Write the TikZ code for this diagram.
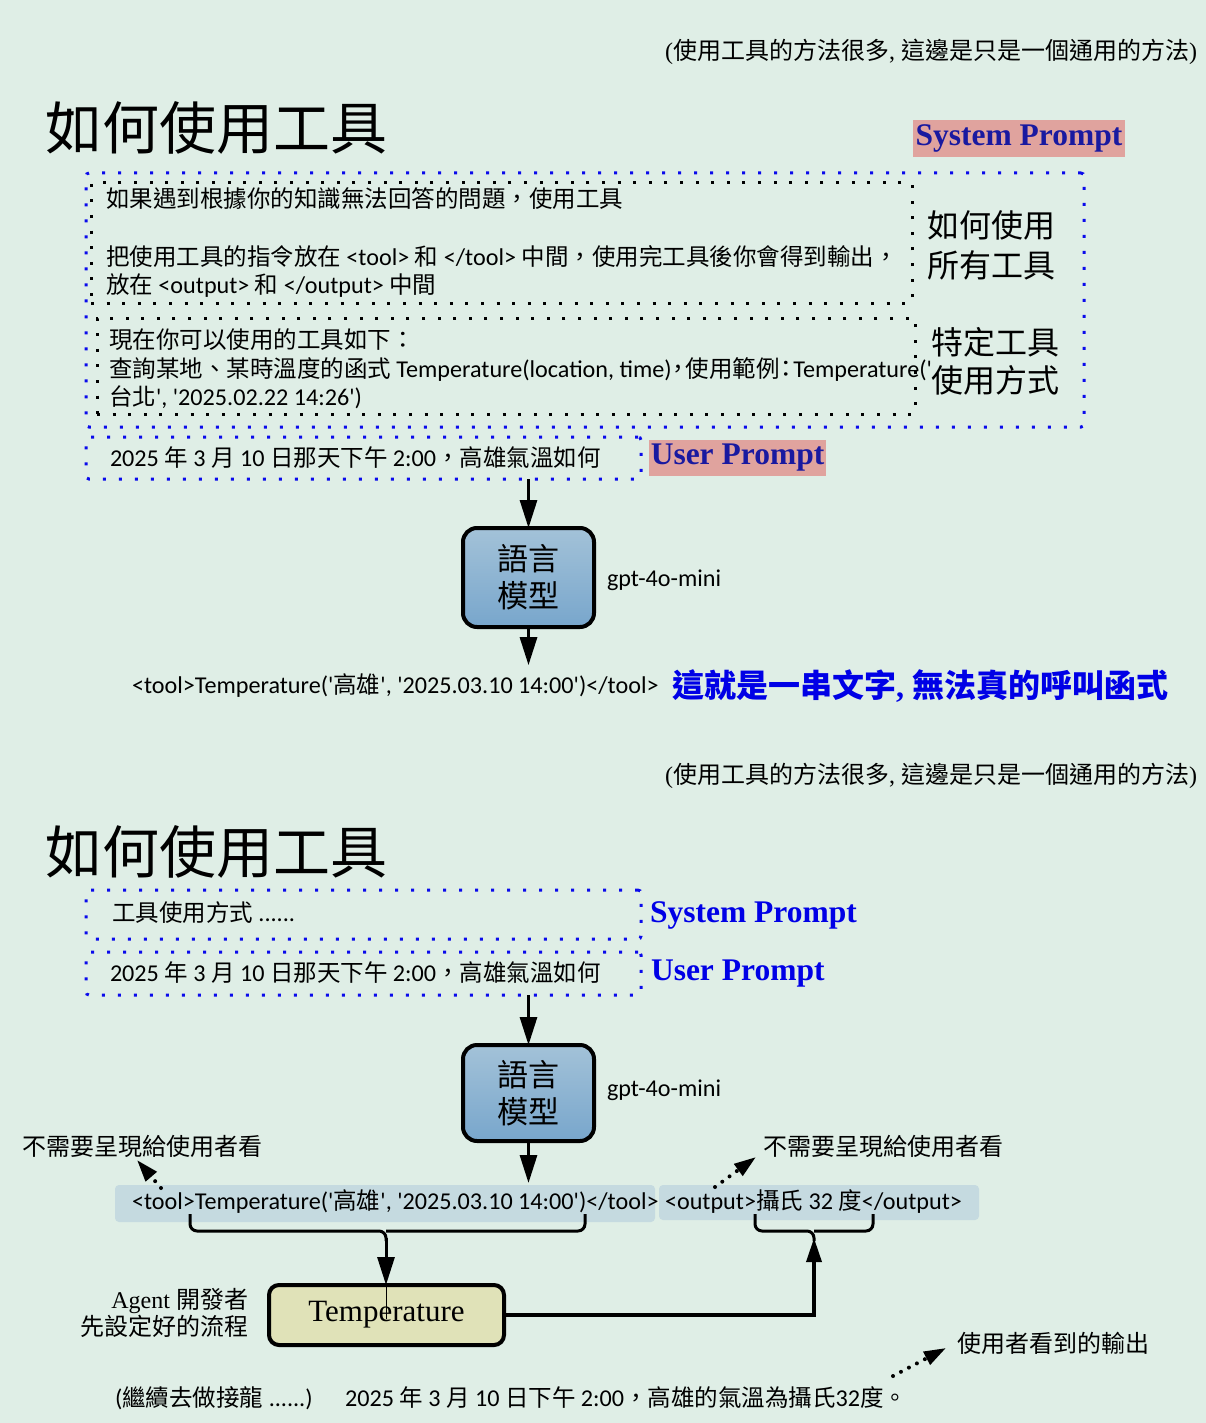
\documentclass[tikz,border=0pt]{standalone}
\usepackage{fontspec}
\setmainfont{Liberation Serif}
\newfontfamily\cjk[Ligatures=TeXOff]{Noto Sans CJK TC}
\newfontfamily\carlito[Ligatures=TeXOff, Scale=1.028]{Carlito}
\usetikzlibrary{arrows.meta,calc}
% automatic switch between Latin font and CJK font
\XeTeXinterchartokenstate=1
\newXeTeXintercharclass\CJKcls
\makeatletter
\count@="3000 \loop \XeTeXcharclass\count@=\CJKcls \ifnum\count@<"303F \advance\count@ 1 \repeat
\count@="4E00 \loop \XeTeXcharclass\count@=\CJKcls \ifnum\count@<"9FFF \advance\count@ 1 \repeat
\count@="FF00 \loop \XeTeXcharclass\count@=\CJKcls \ifnum\count@<"FFEF \advance\count@ 1 \repeat
\makeatother
\def\latinsw{\rmfamily}
\XeTeXinterchartoks 0 \CJKcls = {\cjk}
\XeTeXinterchartoks 4095 \CJKcls = {\cjk}
\XeTeXinterchartoks \CJKcls 0 = {\latinsw}
\XeTeXinterchartoks \CJKcls 4095 = {\latinsw}
\definecolor{bg}{RGB}{223,238,230}
\definecolor{dotblue}{RGB}{10,10,235}
\definecolor{navy}{RGB}{25,25,160}
\definecolor{pinkhl}{RGB}{224,163,158}
\definecolor{labblue}{RGB}{0,0,230}
\definecolor{mtop}{RGB}{163,194,216}
\definecolor{mbot}{RGB}{120,166,204}
\definecolor{tempfill}{RGB}{224,226,184}
\definecolor{hlblue}{RGB}{197,218,224}
\tikzset{
  every node/.style={inner sep=0pt, outer sep=0pt},
  bluedot/.style={draw=dotblue, line width=3pt, dash pattern=on 3pt off 13pt, rounded corners=3pt},
  blackdot/.style={draw=black, line width=3pt, dash pattern=on 3pt off 12.6pt},
  sans/.style={font={\let\latinsw\carlito\carlito\fontsize{23.5}{29}\selectfont}, anchor=west},
  note/.style={font=\fontsize{24}{28}\selectfont, anchor=east},
  bigtitle/.style={font=\cjk\fontsize{57}{60}\selectfont, anchor=west},
  side/.style={font=\cjk\fontsize{32}{40}\selectfont, align=left},
  serlab/.style={font=\bfseries\fontsize{31.5}{34}\selectfont},
  model/.style={draw=black, line width=4pt, rounded corners=14pt, top color=mtop, bottom color=mbot,
    minimum width=131pt, font=\cjk\fontsize{31}{37}\selectfont, align=center},
  arr/.style={line width=3pt, -{Triangle[width=17pt,length=28pt]}},
  uparr/.style={line width=3.5pt, -{Triangle[width=15pt,length=24pt]}},
  dotarr/.style={line width=4pt, dash pattern=on 0pt off 9pt, line cap=round, -{Triangle[width=14pt,length=22pt]}},
  brace/.style={line width=3pt, rounded corners=7pt},
  hlbox/.style={fill=hlblue, rounded corners=4pt},
  small/.style={font=\fontsize{24}{27}\selectfont},
}
\begin{document}
\begin{tikzpicture}[x=1pt,y={(0pt,-1pt)}]
\useasboundingbox[fill=bg] (0,0) rectangle (1206,1423);

% ---------------- section 1 ----------------
\node[note] (note1) at (1197,52) {(使用工具的方法很多, 這邊是只是一個通用的方法)};
\node[bigtitle] (title1) at (45,128) {如何使用工具};
\node[serlab, fill=pinkhl, text=navy, minimum width=212pt, minimum height=37pt] (sp1) at (1019,138.5) {System Prompt};

\node[bluedot, minimum width=998pt, minimum height=254pt] (outer1) at (585,300) {};
\node[blackdot, minimum width=821pt, minimum height=120pt] (inA) at (501.5,243) {};
\node[blackdot, minimum width=818pt, minimum height=96pt] (inB) at (506,366) {};

\node[sans] (t11) at (106,199) {如果遇到根據你的知識無法回答的問題，使用工具};
\node[sans] (t12) at (106,257) {把使用工具的指令放在 <tool> 和 </tool> 中間，使用完工具後你會得到輸出，};
\node[sans] (t13) at (106,286) {放在 <output> 和 </output> 中間};
\node[sans] (t21) at (109,340) {現在你可以使用的工具如下：};
\node[sans] (t22) at (109,369) {查詢某地、某時溫度的函式 Temperature(location, time)\kern-.2em，\kern-.2em 使用範例\kern-.2em：\kern-.2em Temperature('};
\node[sans] (t23) at (109,397) {台北', '2025.02.22 14:26')};

\node[side] (r1) at (991,245) {如何使用\\所有工具};
\node[side, font=\cjk\fontsize{32}{38}\selectfont] (r2) at (995,361) {特定工具\\使用方式};

\node[bluedot, minimum width=555pt, minimum height=42pt] (user1) at (363.5,458) {};
\node[sans] (u1) at (110,458) {2025 年 3 月 10 日那天下午 2:00，高雄氣溫如何};
\node[serlab, fill=pinkhl, text=navy, minimum width=177pt, minimum height=36pt] (up1) at (737.5,458) {User Prompt};

\node[model, minimum height=99pt] (model1) at (528.5,577.5) {語言\\模型};
\node[sans] (gpt1) at (607,580) {gpt-4o-mini};
\draw[arr] (model1.north |- user1.south) -- (model1.north);

\node[sans] (tool1) at (132,686) {<tool>Temperature('高雄', '2025.03.10 14:00')</tool>};
\draw[arr, shorten >=9pt] (model1.south) -- (model1.south |- tool1.north);
\node[font=\bfseries\fontsize{32}{36}\selectfont, text=labblue, anchor=west] (blue1) at (672,686) {這就是一串文字, 無法真的呼叫函式};

% ---------------- section 2 ----------------
\node[note] (note2) at (1197,776) {(使用工具的方法很多, 這邊是只是一個通用的方法)};
\node[bigtitle] (title2) at (45,852) {如何使用工具};

\node[bluedot, minimum width=555pt, minimum height=49pt] (sys2) at (363.5,914.5) {};
\node[sans] (s2) at (112,913) {工具使用方式 ......};
\node[serlab, text=labblue, anchor=west] (sp2) at (650,915) {System Prompt};

\node[bluedot, minimum width=555pt, minimum height=43pt] (user2) at (363.5,973.5) {};
\node[sans] (u2) at (110,973) {2025 年 3 月 10 日那天下午 2:00，高雄氣溫如何};
\node[serlab, text=labblue, anchor=west] (up2) at (651,974) {User Prompt};

\node[model, minimum height=96pt] (model2) at (528.5,1093) {語言\\模型};
\node[sans] (gpt2) at (607,1090) {gpt-4o-mini};
\draw[arr] (model2.north |- user2.south) -- (model2.north);

\node[hlbox, minimum width=540pt, minimum height=37pt] (toolbox2) at (385,1203.5) {};
\node[hlbox, minimum width=320pt, minimum height=35pt] (outbox2) at (819,1202.5) {};
\node[sans] (tool2) at (132,1202) {<tool>Temperature('高雄', '2025.03.10 14:00')</tool>};
\node[sans] (out2) at (665,1202) {<output>攝氏 32 度</output>};
\draw[arr, shorten >=2pt] (model2.south) -- (model2.south |- toolbox2.north);

\node[small] (nl) at (142,1146) {不需要呈現給使用者看};
\node[small] (nr) at (883,1146) {不需要呈現給使用者看};
\coordinate (nlfrom) at (161,1188);
\coordinate (nlto) at (137,1160);
\coordinate (nrfrom) at (715,1187);
\coordinate (nrto) at (756,1157);
\draw[dotarr] (nlfrom) -- (nlto);
\draw[dotarr] (nrfrom) -- (nrto);

% braces
\draw[brace] (190,1214) -- (190,1231) -- (386,1231) -- (386,1241);
\draw[brace] (585,1214) -- (585,1231) -- (386,1231);
\draw[brace] (755,1214) -- (755,1231) -- (814,1231) -- (814,1241);
\draw[brace] (873,1214) -- (873,1231) -- (814,1231);
\coordinate (b1tip) at (386,1238);
\coordinate (b2tip) at (814,1238);

\node[draw=black, line width=4pt, rounded corners=10pt, fill=tempfill, minimum width=235pt, minimum height=60pt,
  font=\fontsize{31}{34}\selectfont] (temp) at (386.5,1315) {Temperature};
\draw[arr] (b1tip) -- (temp.north -| b1tip);
\draw[line width=0.8pt] (temp.north -| b1tip) -- ($(temp.center -| b1tip)+(0,4)$);
\draw[uparr] (temp.east) -| (b2tip);

\node[font=\fontsize{24}{27}\selectfont, align=right, anchor=east] (agent) at (248,1312.5) {Agent 開發者\\先設定好的流程};

\node[small, anchor=west] (seen) at (957,1343) {使用者看到的輸出};
\coordinate (sfrom) at (893,1376);
\coordinate (sto) at (946,1348);
\draw[dotarr] (sfrom) -- (sto);

\node[sans] (b1) at (115,1398) {(繼續去做接龍 ......)};
\node[sans] (b2) at (345,1398) {2025 年 3 月 10 日下午 2:00，高雄的氣溫為攝氏32度。};
\end{tikzpicture}
\end{document}
